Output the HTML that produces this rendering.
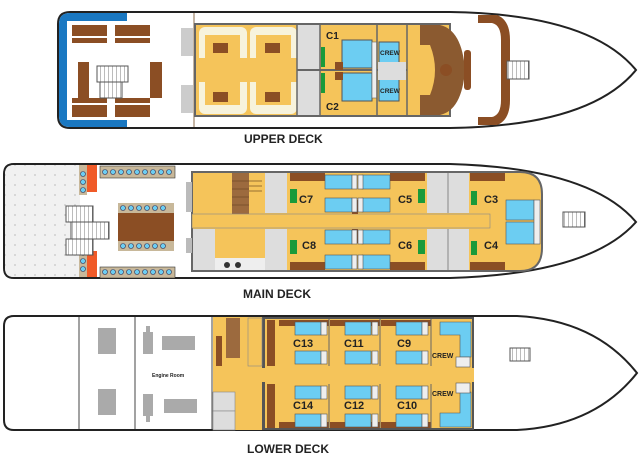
<!DOCTYPE html>
<html><head><meta charset="utf-8"><style>
html,body{margin:0;padding:0;background:#fff;width:640px;height:470px;overflow:hidden}
svg{display:block}
text{font-family:"Liberation Sans",Arial,sans-serif;font-weight:bold;fill:#222}
</style></head><body>
<svg width="640" height="470" viewBox="0 0 640 470" xmlns="http://www.w3.org/2000/svg">
<defs>
<pattern id="dots" width="10" height="10" patternUnits="userSpaceOnUse"><rect width="10" height="10" fill="#f1f1f1"/><path d="M4 5h2M5 4v2" stroke="#bbb" stroke-width="0.6"/></pattern>
<pattern id="stair" width="4" height="4" patternUnits="userSpaceOnUse"><rect width="4" height="4" fill="#fff"/><path d="M0 0v4" stroke="#555" stroke-width="0.8"/></pattern>
</defs>

<!-- ================= UPPER DECK ================= -->
<path d="M70 12 H450 Q590 14 636 70 Q590 126 450 128 H70 Q58 128 58 116 V24 Q58 12 70 12Z" fill="#fff" stroke="#222" stroke-width="2"/>
<path d="M70 13 H127 V127 H70 Q59 127 59 116 V24 Q59 13 70 13Z" fill="#1a78c2"/>
<rect x="67" y="21" width="60" height="99" fill="#fff"/>
<rect x="72" y="25" width="35" height="11" fill="#8b4e24"/><rect x="115" y="25" width="35" height="11" fill="#8b4e24"/>
<rect x="72" y="38" width="35" height="5" fill="#8b4e24"/><rect x="115" y="38" width="35" height="5" fill="#8b4e24"/>
<rect x="72" y="98" width="35" height="5" fill="#8b4e24"/><rect x="115" y="98" width="35" height="5" fill="#8b4e24"/>
<rect x="72" y="105" width="35" height="12" fill="#8b4e24"/><rect x="115" y="105" width="35" height="12" fill="#8b4e24"/>
<rect x="78" y="62" width="11" height="36" fill="#8b4e24"/><rect x="150" y="62" width="12" height="36" fill="#8b4e24"/>
<rect x="97" y="66" width="31" height="16" fill="url(#stair)" stroke="#555"/>
<rect x="100" y="82" width="22" height="16" fill="url(#stair)" stroke="#555"/>
<line x1="194" y1="13" x2="194" y2="127" stroke="#8b6b4a"/>
<rect x="181" y="28" width="12" height="28" fill="#ccc"/><rect x="181" y="85" width="12" height="28" fill="#ccc"/>
<!-- cabin block -->
<rect x="195" y="24" width="255" height="92" fill="#f5c45a" stroke="#666" stroke-width="2"/>
<rect x="199" y="27" width="48" height="40" rx="6" fill="#f7f3dc"/><rect x="250" y="27" width="47" height="40" rx="6" fill="#f7f3dc"/>
<rect x="199" y="74" width="48" height="40" rx="6" fill="#f7f3dc"/><rect x="250" y="74" width="47" height="40" rx="6" fill="#f7f3dc"/>
<rect x="205" y="35" width="35" height="25" fill="#f5c45a"/><rect x="256" y="35" width="35" height="25" fill="#f5c45a"/>
<rect x="205" y="80" width="35" height="25" fill="#f5c45a"/><rect x="256" y="80" width="35" height="25" fill="#f5c45a"/>
<rect x="199" y="58" width="98" height="24" fill="#f5c45a"/>
<rect x="213" y="43" width="15" height="10" fill="#8b4e24"/><rect x="265" y="43" width="15" height="10" fill="#8b4e24"/>
<rect x="213" y="92" width="15" height="10" fill="#8b4e24"/><rect x="265" y="92" width="15" height="10" fill="#8b4e24"/>
<rect x="297" y="25" width="23" height="90" fill="#ddd"/>
<line x1="297" y1="25" x2="297" y2="115" stroke="#666" stroke-width="1.5"/><line x1="320" y1="25" x2="320" y2="115" stroke="#666" stroke-width="1.5"/>
<line x1="297" y1="70" x2="407" y2="70" stroke="#666" stroke-width="2"/>
<rect x="321" y="47" width="4" height="20" fill="#1a9a3a"/><rect x="321" y="73" width="4" height="20" fill="#1a9a3a"/>
<rect x="342" y="40" width="30" height="28" fill="#6ccdf2" stroke="#555"/><rect x="342" y="73" width="30" height="28" fill="#6ccdf2" stroke="#555"/>
<rect x="335" y="62" width="8" height="8" fill="#8b4e24"/><rect x="335" y="72" width="8" height="8" fill="#8b4e24"/>
<rect x="372" y="42" width="5" height="56" fill="#eee" stroke="#666" stroke-width="0.6"/>
<line x1="377" y1="25" x2="377" y2="115" stroke="#666" stroke-width="1.5"/>
<rect x="379" y="42" width="20" height="25" fill="#6ccdf2" stroke="#555"/><rect x="379" y="76" width="20" height="25" fill="#6ccdf2" stroke="#555"/>
<rect x="378" y="62" width="28" height="18" fill="#ddd"/>
<line x1="407" y1="25" x2="407" y2="115" stroke="#666" stroke-width="1.5"/>
<path d="M420 25 H440 Q462 30 465 70 Q462 110 440 115 H420 V95 H430 Q440 70 430 45 H420Z" fill="#8b5a30"/>
<circle cx="446" cy="70" r="6" fill="#8b4e24"/>
<rect x="464" y="50" width="7" height="40" rx="3" fill="#8b4e24"/>
<path d="M478 15 H497 Q510 20 510 40 V100 Q510 120 497 125 H478 V117 H492 Q501 115 501 100 V40 Q501 25 492 23 H478Z" fill="#8b4e24"/>
<rect x="507" y="61" width="22" height="18" fill="url(#stair)" stroke="#555"/>
<text x="244" y="143" font-size="12">UPPER DECK</text>
<text x="326" y="39" font-size="10">C1</text><text x="326" y="110" font-size="10">C2</text>
<text x="380" y="55" font-size="6.5">CREW</text><text x="380" y="93" font-size="6.5">CREW</text>

<!-- ================= MAIN DECK ================= -->
<path d="M14 164 H450 Q590 168 636 222 Q590 274 450 278 H14 Q4 278 4 268 V174 Q4 164 14 164Z" fill="#fff" stroke="#222" stroke-width="2"/>
<path d="M14 165 H80 V277 H14 Q5 277 5 268 V174 Q5 165 14 165Z" fill="url(#dots)"/>
<rect x="79" y="165" width="8" height="30" fill="#c8b89a"/><rect x="79" y="247" width="8" height="30" fill="#c8b89a"/>
<rect x="87" y="165" width="10" height="27" fill="#f05a28"/><rect x="87" y="251" width="10" height="26" fill="#f05a28"/>
<rect x="100" y="166" width="75" height="12" fill="#c8b89a" stroke="#333" stroke-width="0.6"/>
<rect x="100" y="267" width="75" height="11" fill="#c8b89a" stroke="#333" stroke-width="0.6"/>
<rect x="118" y="213" width="56" height="28" fill="#8b4e24"/>
<rect x="118" y="203" width="56" height="10" fill="#c8b89a"/><rect x="118" y="241" width="56" height="10" fill="#c8b89a"/>
<g fill="#6ccdf2" stroke="#335" stroke-width="0.6">
<circle cx="105" cy="172" r="2.5"/><circle cx="113" cy="172" r="2.5"/><circle cx="121" cy="172" r="2.5"/><circle cx="129" cy="172" r="2.5"/><circle cx="137" cy="172" r="2.5"/><circle cx="145" cy="172" r="2.5"/><circle cx="153" cy="172" r="2.5"/><circle cx="161" cy="172" r="2.5"/><circle cx="169" cy="172" r="2.5"/>
<circle cx="105" cy="272" r="2.5"/><circle cx="113" cy="272" r="2.5"/><circle cx="121" cy="272" r="2.5"/><circle cx="129" cy="272" r="2.5"/><circle cx="137" cy="272" r="2.5"/><circle cx="145" cy="272" r="2.5"/><circle cx="153" cy="272" r="2.5"/><circle cx="161" cy="272" r="2.5"/><circle cx="169" cy="272" r="2.5"/>
<circle cx="123" cy="208" r="2.5"/><circle cx="131" cy="208" r="2.5"/><circle cx="139" cy="208" r="2.5"/><circle cx="147" cy="208" r="2.5"/><circle cx="155" cy="208" r="2.5"/><circle cx="163" cy="208" r="2.5"/>
<circle cx="123" cy="246" r="2.5"/><circle cx="131" cy="246" r="2.5"/><circle cx="139" cy="246" r="2.5"/><circle cx="147" cy="246" r="2.5"/><circle cx="155" cy="246" r="2.5"/><circle cx="163" cy="246" r="2.5"/>
<circle cx="83" cy="174" r="2.5"/><circle cx="83" cy="182" r="2.5"/><circle cx="83" cy="190" r="2.5"/>
<circle cx="83" cy="253" r="2.5"/><circle cx="83" cy="261" r="2.5"/><circle cx="83" cy="269" r="2.5"/>
</g>
<rect x="66" y="206" width="27" height="16" fill="url(#stair)" stroke="#555"/>
<rect x="71" y="222" width="38" height="17" fill="url(#stair)" stroke="#555"/>
<rect x="66" y="239" width="27" height="16" fill="url(#stair)" stroke="#555"/>
<!-- block -->
<path d="M192 172 H520 Q542 172 542 194 V248 Q542 271 520 271 H192Z" fill="#f5c45a" stroke="#666" stroke-width="2"/>
<rect x="186" y="182" width="6" height="30" fill="#bbb"/><rect x="186" y="238" width="6" height="15" fill="#bbb"/>
<rect x="232" y="173" width="17" height="41" fill="#9c6a3e"/>
<g stroke="#5a3a1a" stroke-width="0.6"><line x1="232" y1="181" x2="249" y2="181"/><line x1="232" y1="189" x2="249" y2="189"/><line x1="232" y1="197" x2="249" y2="197"/><line x1="232" y1="205" x2="249" y2="205"/><line x1="249" y1="181" x2="262" y2="181"/><line x1="249" y1="186" x2="262" y2="186"/><line x1="249" y1="191" x2="262" y2="191"/></g>
<rect x="265" y="173" width="22" height="40" fill="#ddd"/>
<rect x="193" y="229" width="22" height="41" fill="#ddd"/>
<rect x="215" y="229" width="50" height="41" fill="#f5c45a"/><rect x="215" y="258" width="50" height="12" fill="#eee"/>
<circle cx="227" cy="265" r="3" fill="#333"/><circle cx="238" cy="265" r="3" fill="#333"/>
<rect x="265" y="229" width="22" height="41" fill="#ddd"/>
<rect x="192" y="214" width="298" height="14" fill="#f5c45a" stroke="#888" stroke-width="0.6"/>
<rect x="427" y="173" width="42" height="40" fill="#ddd"/><rect x="427" y="229" width="42" height="41" fill="#ddd"/>
<line x1="448" y1="173" x2="448" y2="213" stroke="#888"/><line x1="448" y1="229" x2="448" y2="270" stroke="#888"/>
<g fill="#8b4e24"><rect x="290" y="173" width="35" height="8"/><rect x="390" y="173" width="35" height="8"/><rect x="470" y="173" width="35" height="8"/>
<rect x="290" y="262" width="35" height="8"/><rect x="390" y="262" width="35" height="8"/><rect x="470" y="262" width="35" height="8"/>
<rect x="352" y="200" width="6" height="14" fill="#8b4e24"/><rect x="352" y="229" width="6" height="14"/></g>
<g fill="#1a9a3a"><rect x="290" y="189" width="7" height="14"/><rect x="290" y="240" width="7" height="14"/><rect x="418" y="189" width="7" height="14"/><rect x="418" y="240" width="7" height="14"/><rect x="471" y="191" width="6" height="14"/><rect x="471" y="241" width="6" height="14"/></g>
<g fill="#6ccdf2" stroke="#555" stroke-width="0.6">
<rect x="325" y="175" width="27" height="14"/><rect x="362" y="175" width="28" height="14"/>
<rect x="325" y="198" width="27" height="14"/><rect x="362" y="198" width="28" height="14"/>
<rect x="325" y="230" width="27" height="14"/><rect x="362" y="230" width="28" height="14"/>
<rect x="325" y="255" width="27" height="14"/><rect x="362" y="255" width="28" height="14"/>
<rect x="506" y="200" width="28" height="20"/><rect x="506" y="222" width="28" height="22"/>
</g>
<g fill="#eee" stroke="#555" stroke-width="0.6">
<rect x="352" y="175" width="5" height="14"/><rect x="358" y="175" width="5" height="14"/><rect x="352" y="198" width="5" height="14"/><rect x="358" y="198" width="5" height="14"/>
<rect x="352" y="230" width="5" height="14"/><rect x="358" y="230" width="5" height="14"/><rect x="352" y="255" width="5" height="14"/><rect x="358" y="255" width="5" height="14"/>
<rect x="534" y="200" width="6" height="44"/>
</g>
<rect x="563" y="227" width="22" height="15" fill="url(#stair)" stroke="#555" transform="translate(0,-15)"/>
<text x="243" y="298" font-size="12">MAIN DECK</text>
<text x="299" y="203" font-size="11">C7</text><text x="398" y="203" font-size="11">C5</text><text x="484" y="203" font-size="11">C3</text>
<text x="302" y="249" font-size="11">C8</text><text x="398" y="249" font-size="11">C6</text><text x="484" y="249" font-size="11">C4</text>

<!-- ================= LOWER DECK ================= -->
<path d="M14 316 H517 Q595 320 637 373 Q595 426 517 430 H14 Q4 430 4 420 V326 Q4 316 14 316Z" fill="#fff" stroke="#222" stroke-width="2"/>
<line x1="79" y1="317" x2="79" y2="429" stroke="#444"/><line x1="135" y1="317" x2="135" y2="429" stroke="#444"/><line x1="212" y1="317" x2="212" y2="429" stroke="#444"/>
<g fill="#aaa"><rect x="98" y="328" width="18" height="26"/><rect x="98" y="389" width="18" height="26"/>
<rect x="143" y="332" width="10" height="22"/><rect x="146" y="326" width="4" height="8"/><rect x="162" y="336" width="33" height="14"/>
<rect x="143" y="394" width="10" height="22"/><rect x="146" y="414" width="4" height="8"/><rect x="164" y="399" width="33" height="14"/></g>
<text x="152" y="377" font-size="5" font-weight="normal" fill="#555">Engine Room</text>
<rect x="213" y="317" width="261" height="113" fill="#f5c45a"/>
<rect x="262" y="317" width="212" height="113" fill="#555" />
<rect x="265" y="319" width="207" height="109" fill="#f5c45a"/>
<rect x="213" y="368" width="261" height="14" fill="#f5c45a"/>
<rect x="226" y="318" width="14" height="40" fill="#9c6a3e"/>
<rect x="248" y="318" width="14" height="48" fill="#f5c45a" stroke="#888" stroke-width="0.6"/>
<rect x="216" y="336" width="6" height="30" fill="#8b4e24"/>
<rect x="213" y="392" width="22" height="19" fill="#ddd" stroke="#888" stroke-width="0.6"/><rect x="213" y="411" width="22" height="19" fill="#ddd" stroke="#888" stroke-width="0.6"/>
<rect x="267" y="320" width="8" height="46" fill="#8b4e24"/><rect x="267" y="384" width="8" height="44" fill="#8b4e24"/>
<g fill="#8b4e24"><rect x="279" y="320" width="50" height="6"/><rect x="330" y="320" width="50" height="6"/><rect x="381" y="320" width="50" height="6"/><rect x="279" y="422" width="50" height="6"/><rect x="330" y="422" width="50" height="6"/><rect x="381" y="422" width="50" height="6"/></g>
<g stroke="#666" stroke-width="1"><line x1="329" y1="319" x2="329" y2="366"/><line x1="380" y1="319" x2="380" y2="366"/><line x1="431" y1="319" x2="431" y2="366"/><line x1="329" y1="384" x2="329" y2="428"/><line x1="380" y1="384" x2="380" y2="428"/><line x1="431" y1="384" x2="431" y2="428"/></g>
<g fill="#6ccdf2" stroke="#555" stroke-width="0.6">
<rect x="295" y="322" width="26" height="13"/><rect x="345" y="322" width="26" height="13"/><rect x="396" y="322" width="26" height="13"/>
<rect x="295" y="351" width="26" height="13"/><rect x="345" y="351" width="26" height="13"/><rect x="396" y="351" width="26" height="13"/>
<rect x="295" y="386" width="26" height="13"/><rect x="345" y="386" width="26" height="13"/><rect x="396" y="386" width="26" height="13"/>
<rect x="295" y="414" width="26" height="13"/><rect x="345" y="414" width="26" height="13"/><rect x="396" y="414" width="26" height="13"/>
<path d="M440 322 H471 V357 H460 V335 H440Z"/><path d="M440 427 H471 V392 H460 V413 H440Z"/>
</g>
<g fill="#eee" stroke="#555" stroke-width="0.6">
<rect x="321" y="322" width="6" height="13"/><rect x="372" y="322" width="6" height="13"/><rect x="422" y="322" width="6" height="13"/>
<rect x="321" y="351" width="6" height="13"/><rect x="372" y="351" width="6" height="13"/><rect x="422" y="351" width="6" height="13"/>
<rect x="321" y="386" width="6" height="13"/><rect x="372" y="386" width="6" height="13"/><rect x="422" y="386" width="6" height="13"/>
<rect x="321" y="414" width="6" height="13"/><rect x="372" y="414" width="6" height="13"/><rect x="422" y="414" width="6" height="13"/>
<rect x="456" y="357" width="14" height="10"/><rect x="456" y="383" width="14" height="10"/>
</g>
<rect x="510" y="348" width="20" height="13" fill="url(#stair)" stroke="#555"/>
<text x="247" y="438" font-size="12" dy="15">LOWER DECK</text>
<text x="293" y="347" font-size="11">C13</text><text x="344" y="347" font-size="11">C11</text><text x="397" y="347" font-size="11">C9</text>
<text x="293" y="409" font-size="11">C14</text><text x="344" y="409" font-size="11">C12</text><text x="397" y="409" font-size="11">C10</text>
<text x="432" y="358" font-size="7">CREW</text><text x="432" y="396" font-size="7">CREW</text>
</svg>
</body></html>
